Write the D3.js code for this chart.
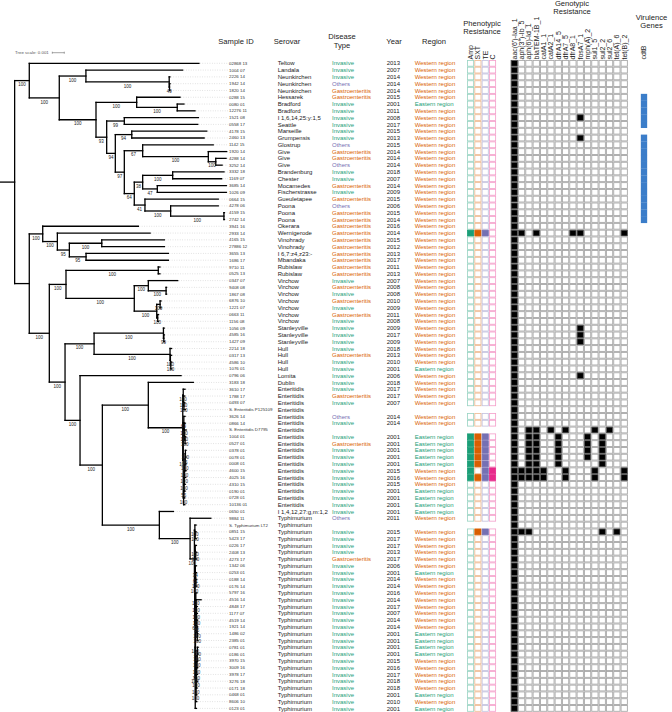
<!DOCTYPE html>
<html><head><meta charset="utf-8">
<script src="https://cdn.jsdelivr.net/npm/d3@7"></script>
<style>body{margin:0;background:#fff}svg{display:block}text{font-family:"Liberation Sans",Arial,sans-serif}</style>
</head><body><svg id="c" width="672" height="712"></svg>
<script>
// ---------------- DATA ----------------
const sampleIds = ["02868 13","1004 07","2226 14","1942 14","1820 14","0288 15","0080 01","12276 11","1521 08","0558 17","4178 15","2460 13","1142 15","1920 14","4288 14","3252 14","3332 18","1169 07","3685 14","1026 09","0664 15","4278 06","4159 15","2742 14","3941 16","2933 14","4165 15","27886 12","3655 13","1686 17","9710 11","0525 13","0347 07","9408 08","1867 08","6876 10","1221 07","0663 11","1156 08","1056 09","4585 16","1427 09","2214 18","0317 13","4586 10","1076 01","0796 06","3183 18","3610 17","1788 17","0493 07","S. Enteritidis P125109","3626 14","0866 14","S. Enteritidis D7795","1004 01","0527 01","0378 01","0078 01","0008 01","4600 15","4025 16","4310 15","0190 01","0728 01","10136 01","0650 01","9884 11","S. Typhimurium LT2","0851 15","5423 17","0226 17","2408 13","4273 17","1342 06","0253 01","0188 14","0176 14","5797 16","4516 14","4848 17","1177 07","4519 14","1921 14","1486 02","2385 01","0781 01","0186 01","3970 15","3009 16","3978 17","3276 18","0171 18","0468 01","8606 10","0123 01"];

const serovars = ["Teltow","Landala","Neunkirchen","Neunkirchen","Neunkirchen","Hessarek","Bradford","Bradford","I 1,6,14,25:y:1,5","Seattle","Marseille","Grumpensis","Glostrup","Give","Give","Give","Brandenburg","Chester","Mocamedes","Fischerstrasse","Gueuletapee","Poona","Poona","Poona","Okerara","Wernigerode","Vinohrady","Vinohrady","I 6,7:z4,z23:-","Mbandaka","Rubislaw","Rubislaw","Virchow","Virchow","Virchow","Virchow","Virchow","Virchow","Virchow","Stanleyville","Stanleyville","Stanleyville","Hull","Hull","Hull","Hull","Lomita","Dublin","Enteritidis","Enteritidis","Enteritidis","Enteritidis","Enteritidis","Enteritidis","Enteritidis","Enteritidis","Enteritidis","Enteritidis","Enteritidis","Enteritidis","Enteritidis","Enteritidis","Enteritidis","Enteritidis","Enteritidis","Enteritidis","I 1,4,12,27:g,m:1,2","Typhimurium","Typhimurium","Typhimurium","Typhimurium","Typhimurium","Typhimurium","Typhimurium","Typhimurium","Typhimurium","Typhimurium","Typhimurium","Typhimurium","Typhimurium","Typhimurium","Typhimurium","Typhimurium","Typhimurium","Typhimurium","Typhimurium","Typhimurium","Typhimurium","Typhimurium","Typhimurium","Typhimurium","Typhimurium","Typhimurium","Typhimurium","Typhimurium","Typhimurium"];

// I = Invasive, G = Gastroenteritis, O = Others, "" = reference genome
const diseaseCodes = ["I","I","I","O","G","G","I","I","I","I","I","I","O","G","G","O","I","I","G","I","G","O","G","G","G","G","G","G","G","G","G","G","I","G","I","G","I","G","I","I","I","I","I","G","I","I","I","I","I","G","I","","O","I","","I","G","I","I","I","I","I","I","I","I","I","I","O","","I","I","I","I","G","I","I","I","I","I","I","I","I","I","I","I","I","I","I","I","I","I","I","I","I","I","I"];
const diseaseNames = {I:"Invasive",G:"Gastroenteritis",O:"Others"};

const years = ["2013","2007","2014","2014","2014","2015","2001","2011","2008","2017","2015","2013","2015","2014","2014","2014","2018","2007","2014","2009","2015","2006","2015","2014","2016","2014","2015","2012","2013","2017","2011","2013","2007","2008","2008","2010","2009","2011","2008","2009","2017","2009","2018","2013","2010","2001","2006","2018","2017","2017","2007","","2014","2014","","2001","2001","2001","2001","2001","2015","2016","2015","2001","2001","2001","2001","2011","","2015","2017","2017","2013","2017","2006","2001","2014","2014","2016","2014","2017","2007","2014","2014","2001","2001","2001","2001","2015","2016","2017","2018","2018","2001","2010","2001"];

// W = Western region, E = Eastern region
const regionCodes = ["W","W","W","W","W","W","E","W","W","W","W","W","W","W","W","W","W","W","W","W","W","W","W","W","W","W","W","W","W","W","W","W","W","W","W","W","W","W","W","W","W","W","W","W","W","E","W","W","W","W","W","","W","W","","E","E","E","E","E","W","W","W","E","E","E","E","W","","W","W","W","W","W","W","E","W","W","W","W","W","W","W","W","E","E","E","E","W","W","W","W","W","E","W","E"];
const regionNames = {W:"Western region",E:"Eastern region"};

const phenoCols = ["Amp","SXT","TE","C"];
// one string per row, Amp/SXT/TE/C; "" = not tested (reference genome)
const phenoRows = ["0000","0000","0000","0000","0000","0000","0000","0000","0000","0000","0000","0000","0000","0000","0000","0000","0000","0000","0000","0000","0000","0000","0000","0000","0000","1110","0000","0000","0000","0000","0000","0000","0000","0000","0000","0000","0000","0000","0000","0000","0000","0000","0000","0000","0000","0000","0000","0000","0000","0000","0000","","0000","0000","","1110","1110","1110","1110","1110","1011","1111","0000","0000","0000","0000","0000","0000","","0110","0000","0000","0000","0000","0000","0000","0000","0000","0000","0000","0000","0000","0000","0000","0000","0000","0000","0000","0000","0000","0000","0000","0000","0000","0000","0000"];

const genes = ["aac(6')-Iaa_1","aph(3'')-Ib_5","aph(6)-Id_1","blaTEM-1B_1","catA1_1","catA2_1","dfrA14_5","dfrA7_5","dfrA8_1","fosA7_1","mph(A)_2","sul1_5","sul2_2","sul2_6","tet(A)_6","tet(B)_2"];
const genoRows = ["1000000000000000","1000000000000000","1000000000000000","1000000000000000","1000000000000000","1000000000000000","1000000000000000","1000000000000000","1000000001000000","1000000000000000","1000000000000000","1000000001000000","1000000000000000","1000000000000000","1000000000000000","1000000000000000","1000000000000000","1000000000000000","1000000000000000","1000000000000000","1000000000000000","1000000000000000","1000000000000000","1000000000000000","1000000000000000","1101000011000001","1000000000000000","1000000000000000","1000000000000000","1000000000000000","1000000000000000","1000000000000000","1000000000000000","1000000000000000","1000000000000000","1000000000000000","1000000000000000","1000000000000000","1000000000000000","1000000001000000","1000000001000000","1000000001000000","1000000000000000","1000000000000000","1000000000000000","1000000000000000","1000000001000000","1000000000000000","1000000000000000","1000000000000000","1000000000000000","1000000000000000","1000000000000000","1000000000000000","1011010100010100","1011001000101000","1011001000101000","1011001000101000","1011001000101000","1011001000001000","1111100100010001","1111100100010001","1000000000000000","1000000000000000","1000000000000000","1000000000000000","1000000000000000","1000000000000000","1000000000000000","1110000000001010","1000000000000000","1000000000000000","1000000000000000","1000000000000000","1000000000000000","1000000000000000","1000000000000000","1000000000000000","1000000000000000","1000000000000000","1000000000000000","1000000000000000","1000000000000000","1000000000000000","1000000000000000","1000000000000000","1000000000000000","1000000000000000","1000000000000000","1000000000000000","1000000000000000","1000000000000000","1000000000000000","1000000000000000","1000000000000000","1000000000000000"];

const virulenceGenes = ["cdtB"];
const cdtBRows = "000001111101111111111111000000000000000000000000000000000000000000000000000000000000000000000000";

// Phylogeny (Newick, branch lengths in 1e-4 substitutions/site, internal labels = bootstrap)
const treeTop = "(r0:141.4,((r1:80.6,(r2:0.6,(r3:0.4,r4:0.4)49:0.25)100:69.4)100:22.2,((r5:36.1,(r6:5.6,r7:14.8)100:33.8)100:33.9,((r8:61.7,r9:61.2)99:14.7,((r10:62.5,r11:60.3)94:13.7,((r12:58.8,(r13:15.3,(r14:8.6,r15:5.3)100:6.2)100:54.7)67:15.3,(((r16:42.8,r17:40.8)100:25.0,(r18:57.5,r19:57.5)47:12.2)38:7.0,(r20:61.1,(r21:39.7,(r22:0.4,r23:0.4)100:44.4)100:21.4)41:8.9)64:8.3)97:7.5)94:7.2)93:8.9)100:30.6)100:25.0)100:12.2";
const treeSmall = "(r24:79.7,(r25:77.3,((r26:52.2,r27:52.2)100:27.0,(r28:68.6,r29:68.6)95:13.9)95:10.0)100:12.2)100:11.2";
const treeVirchow = "((r30:1.4,r31:1.4)100:76.9,((r32:24.5,(r33:0.4,r34:0.4)100:14.8)100:11.7,((r35:0.8,r36:0.8)100:2.8,(r37:0.7,r38:0.7)100:0.8)100:18.7)100:56.9)100:13.9";
const treeHull = "((r39:0.6,(r40:0.4,r41:0.4)99:0.3)100:57.8,(r42:1.3,(r43:1.0,(r44:0.8,r45:0.8)100:0.3)100:0.3)100:63.3)100:24.2";
const treeEnt = "((r48:1.5,(r49:1.0,(r50:0.8,r51:1.2)100:0.3)100:0.3)100:0.4,((r52:1.0,(r53:0.9,(r54:1.4,(r55:0.6,r56:0.6)100:0.4)100:0.3)100:0.3)69:0.5,((((((((r57:0.5,r58:0.5)100:0.2,r59:0.6)55:0.2,r60:1.0)100:0.3,r61:1.0)100:0.2,r62:0.8)100:0.2,r63:0.9)100:0.2,r64:0.8)55:0.2,r65:1.0)100:0.3)100:0.4)100:28.7";
const treeTyph = "((r68:1.0,(r69:0.8,r70:0.8)100:0.3)100:0.4,((r71:0.9,(r72:0.8,r73:0.8)100:0.3)100:0.4,((r74:0.9,(r75:0.8,(r76:0.7,r77:0.7)100:0.2)61:0.2)34:0.3,(((r78:0.9,(r79:4.2,(r80:0.8,(r81:0.7,(r82:0.7,(r83:0.6,(r84:0.6,r85:0.6)100:0.2)100:0.2)55:0.2)100:0.2)100:0.2)100:0.2)100:0.3,((((((((r86:0.6,r87:0.6)100:0.2,r88:0.7)100:0.2,r89:0.7)100:0.2,r90:0.7)100:0.2,r91:0.8)100:0.2,r92:0.8)100:0.2,r93:0.8)100:0.2,r94:0.9)100:0.2)100:0.2,r95:1.0)100:0.2)62:0.2)100:0.3)100:3.6";
const treeNewick = `(${treeTop},(${treeSmall},(${treeVirchow},(${treeHull},(r46:84.2,((r47:37.5,${treeEnt})100:38.3,(r66:11.7,(r67:17.3,${treeTyph})100:25.6)100:47.5)100:18.6)100:12.5)100:13.1)100:16.7):12.2):12.2`;
const treeScaleValue = 10; // 0.001 substitutions/site

// ---------------- HELPERS ----------------
function parseNewick(s){
  s = s.replace(/\s+/g,"");
  let i = 0;
  function node(){
    const n = {children:[]};
    if (s[i] === "("){
      i++;
      n.children.push(node());
      while (s[i] === ","){ i++; n.children.push(node()); }
      i++;
    }
    let name = "";
    while (i < s.length && !",():;".includes(s[i])) name += s[i++];
    n.name = name;
    let len = "";
    if (s[i] === ":"){ i++; while (i < s.length && !",();".includes(s[i])) len += s[i++]; }
    n.length = len ? +len : 0;
    return n;
  }
  return node();
}

// ---------------- CHART ----------------
const svg = d3.select("#c");
const FONT_ROW = 6;
const col = {Invasive:"#1b9e77", Gastroenteritis:"#d95f02", Others:"#7570b3"};
const regCol = {"Western region":"#d95f02","Eastern region":"#1b9e77"};
const phenoColor = {Amp:"#1b9e77",SXT:"#d95f02",TE:"#7570b3",C:"#e7298a"};

const y = d3.scalePoint().domain(d3.range(sampleIds.length)).range([63.3, 708.4]);
const xTree = d3.scaleLinear().domain([0, 10]).range([0, 12]);
const leaderEnd = 228;

// tree
const root = d3.hierarchy(parseNewick(treeNewick), d => d.children.length ? d.children : null);
root.eachBefore(n => { n.depthLen = (n.parent ? n.parent.depthLen : 0) + n.data.length; });
root.eachAfter(n => {
  if (!n.children) n.py = y(+n.data.name.slice(1));
  else n.py = (n.children[0].py + n.children[n.children.length-1].py) / 2;
});
const gT = svg.append("g");
gT.selectAll("line.lead").data(root.leaves()).join("line")
  .attr("x1", d => xTree(d.depthLen) + 1).attr("x2", leaderEnd)
  .attr("y1", d => d.py).attr("y2", d => d.py)
  .attr("stroke", "#c4c4c4").attr("stroke-width", 0.6).attr("stroke-dasharray", "0.8,1.6");
gT.selectAll("line.h").data(root.descendants()).join("line")
  .attr("x1", d => xTree(d.parent ? d.parent.depthLen : 0)).attr("x2", d => xTree(d.depthLen))
  .attr("y1", d => d.py).attr("y2", d => d.py)
  .attr("stroke", "#000").attr("stroke-width", 1.3).attr("stroke-linecap", "square");
gT.selectAll("line.v").data(root.descendants().filter(d => d.children)).join("line")
  .attr("x1", d => xTree(d.depthLen)).attr("x2", d => xTree(d.depthLen))
  .attr("y1", d => d.children[0].py).attr("y2", d => d.children[d.children.length-1].py)
  .attr("stroke", "#000").attr("stroke-width", 1.3).attr("stroke-linecap", "square");
gT.selectAll("text.bs").data(root.descendants().filter(d => d.children && d.parent && d.data.name)).join("text")
  .attr("x", d => (xTree(d.parent.depthLen) + xTree(d.depthLen)) / 2)
  .attr("y", d => d.py + 5.6)
  .attr("text-anchor", "middle").attr("font-size", 4.5).attr("fill", "#222")
  .text(d => d.data.name);

// tree scale
const gs = svg.append("g").attr("fill", "#555");
gs.append("text").attr("x", 15).attr("y", 54.2).attr("font-size", 4.4).text("Tree scale: 0.001");
const sx0 = 52.3, sx1 = sx0 + xTree(treeScaleValue) - xTree(0);
gs.append("path").attr("d", `M${sx0},51.7V53.7M${sx0},52.7H${sx1}M${sx1},51.7V53.7`).attr("stroke", "#666").attr("stroke-width", 0.6).attr("fill", "none");

// headers
const hdr = svg.append("g").attr("font-size", 7.6).attr("fill", "#222").attr("text-anchor", "middle");
const headers = [
  {t:["Sample ID"], x:236, y:43.7},
  {t:["Serovar"], x:287, y:43.7},
  {t:["Disease","Type"], x:342, y:39.3},
  {t:["Year"], x:394, y:43.7},
  {t:["Region"], x:434, y:43.7},
  {t:["Phenotypic","Resistance"], x:482, y:25.7},
  {t:["Genotypic","Resistance"], x:572, y:5.8},
  {t:["Virulence","Genes"], x:651.5, y:20}
];
headers.forEach(h => h.t.forEach((s, k) => hdr.append("text").attr("x", h.x).attr("y", h.y + k * 8.2).text(s)));

// text columns
const rows = d3.range(sampleIds.length);
const gx = svg.append("g");
gx.selectAll("text.id").data(rows).join("text")
  .attr("x", 229).attr("y", i => y(i) + 1.5).attr("font-size", 4.4).attr("fill", "#333").text(i => sampleIds[i]);
gx.selectAll("text.sv").data(rows).join("text")
  .attr("x", 277.7).attr("y", i => y(i) + 2.1).attr("font-size", FONT_ROW).attr("fill", "#222").text(i => serovars[i]);
gx.selectAll("text.dt").data(rows.filter(i => diseaseCodes[i])).join("text")
  .attr("x", 332).attr("y", i => y(i) + 2.1).attr("font-size", FONT_ROW)
  .attr("fill", i => col[diseaseNames[diseaseCodes[i]]]).text(i => diseaseNames[diseaseCodes[i]]);
gx.selectAll("text.yr").data(rows.filter(i => years[i])).join("text")
  .attr("x", 386.7).attr("y", i => y(i) + 2.1).attr("font-size", FONT_ROW).attr("fill", "#222").text(i => years[i]);
gx.selectAll("text.rg").data(rows.filter(i => regionCodes[i])).join("text")
  .attr("x", 414.7).attr("y", i => y(i) + 2.1).attr("font-size", FONT_ROW)
  .attr("fill", i => regCol[regionNames[regionCodes[i]]]).text(i => regionNames[regionCodes[i]]);

// phenotypic matrix
const step = 7.33;
const xP = d3.scaleBand().domain(phenoCols).range([466.9, 466.9 + phenoCols.length * step]).paddingInner(0.16).paddingOuter(0.08);
const cellH = 5.8;
const phenoCells = [];
rows.forEach(i => { if (phenoRows[i]) phenoCols.forEach((c, k) => phenoCells.push({i, c, v: phenoRows[i][k] === "1"})); });
svg.append("g").selectAll("rect").data(phenoCells).join("rect")
  .attr("x", d => xP(d.c)).attr("y", d => y(d.i) - cellH / 2)
  .attr("width", xP.bandwidth()).attr("height", cellH)
  .attr("fill", d => d.v ? phenoColor[d.c] : "#fff")
  .attr("stroke", d => phenoColor[d.c]).attr("stroke-opacity", d => d.v ? 1 : 0.45).attr("stroke-width", 0.8);
svg.append("g").selectAll("text").data(phenoCols).join("text")
  .attr("transform", c => `translate(${xP(c) + xP.bandwidth() / 2},59.5) rotate(-90)`)
  .attr("dy", "0.35em").attr("font-size", 7).attr("fill", "#222").text(c => c);

// genotypic matrix
const xG = d3.scaleBand().domain(genes).range([510.6, 510.6 + genes.length * step]).paddingInner(0.14).paddingOuter(0.07);
const genoCells = [];
rows.forEach(i => genes.forEach((g, k) => genoCells.push({i, g, v: genoRows[i][k] === "1"})));
svg.append("g").selectAll("rect").data(genoCells).join("rect")
  .attr("x", d => xG(d.g)).attr("y", d => y(d.i) - cellH / 2)
  .attr("width", xG.bandwidth()).attr("height", cellH)
  .attr("fill", d => d.v ? "#000" : "#fff")
  .attr("stroke", d => d.v ? "#555" : "#a8a8a8").attr("stroke-width", 0.9);
svg.append("g").selectAll("text").data(genes).join("text")
  .attr("transform", g => `translate(${xG(g) + xG.bandwidth() / 2},59.5) rotate(-90)`)
  .attr("dy", "0.35em").attr("font-size", 7).attr("fill", "#222").text(g => g);

// virulence
const xV = d3.scaleBand().domain(virulenceGenes).range([640.5, 647.5]).padding(0.05);
svg.append("g").selectAll("rect").data(rows.filter(i => cdtBRows[i] === "1")).join("rect")
  .attr("x", xV("cdtB")).attr("y", i => y(i) - y.step() / 2)
  .attr("width", xV.bandwidth()).attr("height", y.step() + 0.2)
  .attr("fill", "#3b7dc9");
svg.append("g").selectAll("text").data(virulenceGenes).join("text")
  .attr("transform", g => `translate(${xV(g) + xV.bandwidth() / 2},59.5) rotate(-90)`)
  .attr("dy", "0.35em").attr("font-size", 7).attr("fill", "#222").text(g => g);
</script></body></html>
